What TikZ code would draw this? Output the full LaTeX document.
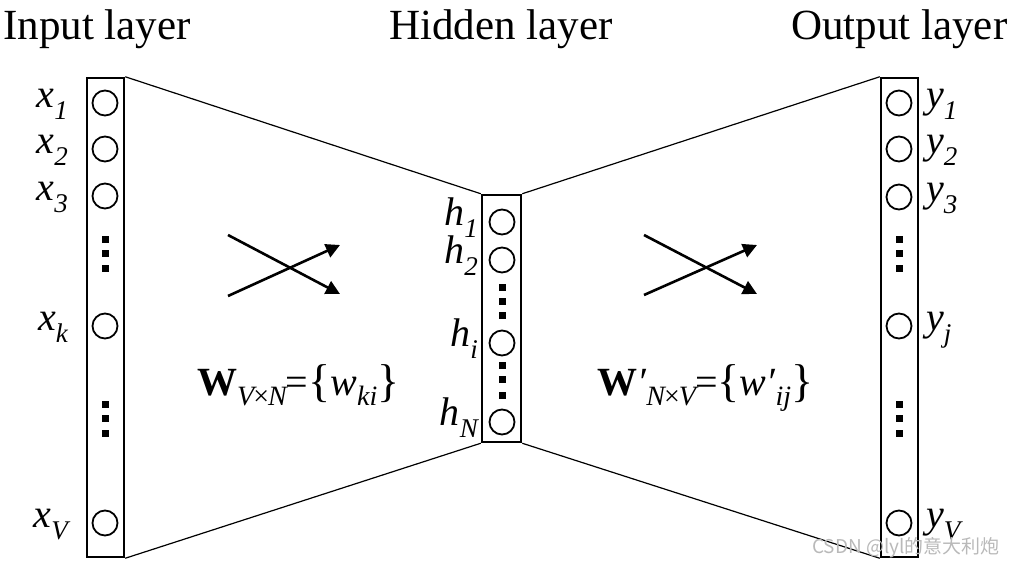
\documentclass[tikz,border=0pt]{standalone}
\usepackage{fontspec}
\setmainfont{Liberation Serif}
\newfontfamily\cjkfont{Noto Sans CJK SC}
\usetikzlibrary{arrows.meta}
\newcommand{\lab}[2]{\fontsize{40}{40}\selectfont\itshape #1\raisebox{-12pt}{\fontsize{27}{27}\selectfont #2}}
\newcommand{\subsm}[1]{\raisebox{-10pt}{\fontsize{28}{28}\selectfont\itshape #1}}
\newcommand{\bigbr}[1]{{\fontsize{46}{46}\selectfont\raisebox{-1pt}{#1}}}
\begin{document}
\begin{tikzpicture}[x=1pt,y=-1pt,
  layerbox/.style={draw, line width=2.5pt, inner sep=0pt},
  unit/.style={circle, draw, line width=1.8pt, minimum size=25pt, inner sep=0pt},
  sqdot/.style={fill=black, minimum size=7pt, inner sep=0pt},
  conn/.style={line width=1.2pt},
  cross/.style={line width=2.6pt, -{Triangle[length=14pt,width=14pt]}},
  head/.style={font=\fontsize{43}{43}\selectfont, anchor=base west, inner sep=0pt},
  lbl/.style={inner sep=0pt},
  formula/.style={font=\fontsize{40}{40}\selectfont, anchor=base west, inner sep=0pt}]
\useasboundingbox (0,0) rectangle (1016,567);
% headers
\node[head] (hin) at (3,40) {Input layer};
\node[head] (hhid) at (389,40) {Hidden layer};
\node[head] (hout) at (791,40) {Output layer};
% boxes
\node[layerbox, minimum width=37pt, minimum height=479pt] (inbox) at (105.5,317.5) {};
\node[layerbox, minimum width=39pt, minimum height=247pt] (hidbox) at (501.5,318.5) {};
\node[layerbox, minimum width=37pt, minimum height=479pt] (outbox) at (899.5,317.5) {};
% connectors
\draw[conn] (inbox.north east) -- (hidbox.north west);
\draw[conn] (inbox.south east) -- (hidbox.south west);
\draw[conn] (hidbox.north east) -- (outbox.north west);
\draw[conn] (hidbox.south east) -- (outbox.south west);
% input units
\foreach \n/\y in {1/103,2/149,3/196,k/326,V/523} {
  \node[unit] (x\n) at (105,\y) {};
  \node[lbl, anchor=base east] (lx\n) at (68,\y+4) {\lab{x}{\n}};
}
\foreach \i/\y in {a/239,b/253,c/268,d/404,e/418,f/433} {
  \node[sqdot] (xd\i) at (105,\y) {};
  \node[sqdot] (yd\i) at (899,\y) {};
}
% output units
\foreach \n/\y in {1/103,2/149,3/197,j/326,V/523} {
  \node[unit] (y\n) at (899,\y) {};
  \node[lbl, anchor=base west] (ly\n) at (926,\y+4) {\lab{y}{\n}};
}
% hidden units
\foreach \n/\y in {1/222,2/260,i/343,N/422} {
  \node[unit] (h\n) at (502,\y) {};
  \node[lbl, anchor=base east] (lh\n) at (478,\y+3) {\lab{h}{\n}};
}
\foreach \i/\y in {a/287,b/301,c/315,d/365,e/379,f/395} {
  \node[sqdot] (hd\i) at (502,\y) {};
}
% crossing arrows
\coordinate (la1) at (228,235); \coordinate (la2) at (340,294);
\coordinate (lb1) at (228,296); \coordinate (lb2) at (340,245);
\coordinate (ra1) at (644,235); \coordinate (ra2) at (757,294);
\coordinate (rb1) at (644,295); \coordinate (rb2) at (757,245);
\draw[cross] (la1) -- (la2);
\draw[cross] (lb1) -- (lb2);
\draw[cross] (ra1) -- (ra2);
\draw[cross] (rb1) -- (rb2);
% formulas
\node[formula] (fw) at (197,395) {\textbf{W}\subsm{V\kern-1pt\upshape×\kern-1pt\itshape N}\kern-1pt=\bigbr{\{}\textit{w}\subsm{ki}\bigbr{\}}};
\node[formula] (fwp) at (597,395) {\textbf{W}\textit{\char"2032}\subsm{N\kern-1pt\upshape×\kern-1pt\itshape V}\kern-1pt=\bigbr{\{}\textit{w\char"2032}\subsm{ij}\bigbr{\}}};
% watermark
\node[inner sep=0pt, anchor=west, text=gray!55, font=\cjkfont\fontsize{19}{19}\selectfont] (wm) at (812,548) {CSDN @lyl的意大利炮};
\end{tikzpicture}
\end{document}
